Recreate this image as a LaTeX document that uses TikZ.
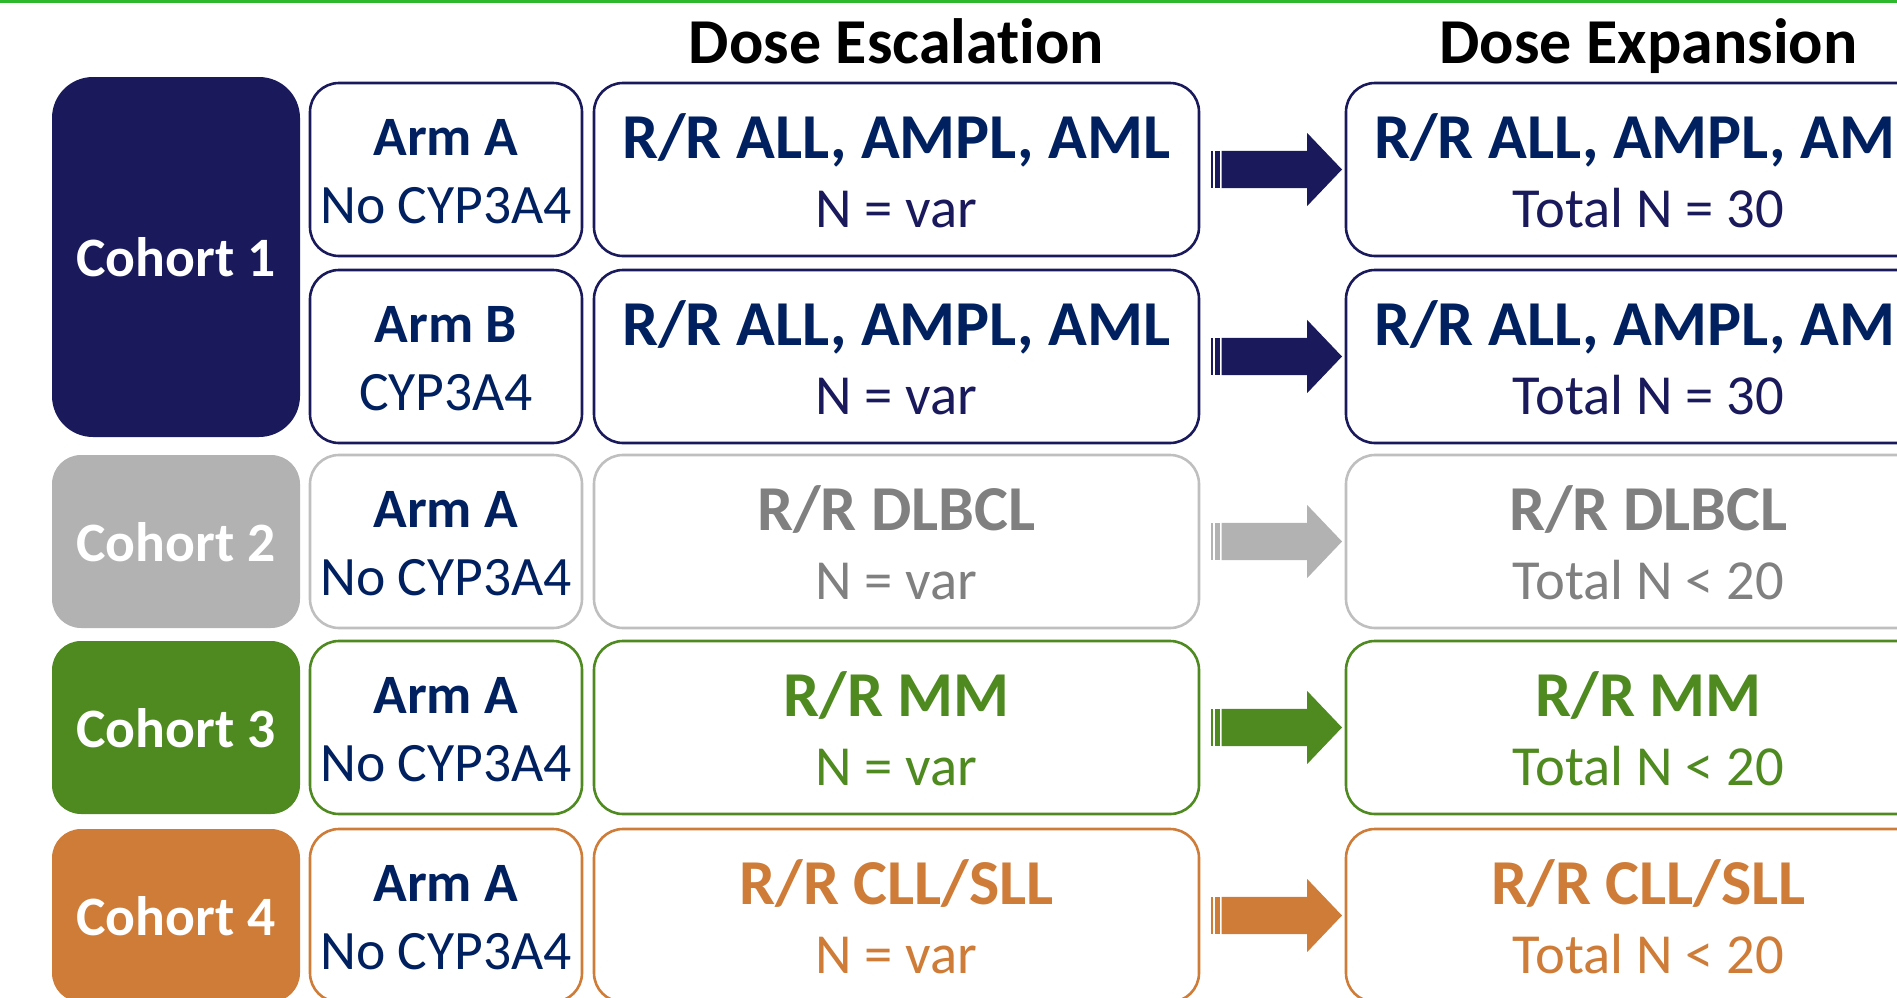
\documentclass[tikz,border=0pt]{standalone}
\usepackage{fontspec}
\setmainfont{Carlito}[Ligatures=NoCommon]
\definecolor{cnavy}{HTML}{19195C}
\definecolor{tnavy}{HTML}{002060}
\definecolor{cgrayf}{HTML}{B2B2B2}
\definecolor{cgrayb}{HTML}{BFBFBF}
\definecolor{cgrayt}{HTML}{808080}
\definecolor{cgreen}{HTML}{4E8A1F}
\definecolor{corange}{HTML}{CE7C38}
\definecolor{ctop}{HTML}{2EB82E}
\newcommand{\fs}[1]{\fontsize{#1}{#1}\selectfont}
\begin{document}
\begin{tikzpicture}[x=0.5pt,y=-0.5pt,
  box/.style={draw=#1, fill=white, line width=1.3pt, rounded corners=14.5pt, inner sep=0pt, outer sep=0pt, minimum height=86.5pt},
  armbox/.style={box=#1, minimum width=136pt},
  escbox/.style={box=#1, minimum width=302.5pt},
  cohortbox/.style={fill=#1, rounded corners=14.5pt, inner sep=0pt, outer sep=0pt, minimum width=124pt, minimum height=86.5pt},
  cohorttxt/.style={anchor=base, text=white, font=\bfseries\fs{27.8}},
  armhead/.style={anchor=base, text=tnavy, font=\bfseries\fs{27.8}},
  armsub/.style={anchor=base, text=tnavy, font=\fs{27.8}},
  dhead/.style={anchor=base, text=#1, font=\bfseries\fs{32}},
  dsub/.style={anchor=base, text=#1, font=\fs{28.3}},
  title/.style={anchor=base, text=black, font=\bfseries\fs{32}}
]
\useasboundingbox (0,0) rectangle (1897,997);
\clip (0,0) rectangle (1897,997);
\fill[ctop] (0,0) rectangle (1897,2.5);

% titles
\node[title] (tesc) at (896.5,63) {Dose Escalation};
\node[title] (texp) at (1648.5,63) {Dose Expansion};

% Cohort boxes
\node[cohortbox=cnavy, rounded corners=20.5pt, minimum height=180pt] (c1) at (176,257) {};
\node[cohorttxt] at (176,276.5) {Cohort 1};
\node[cohortbox=cgrayf] (c2) at (176,541.5) {};
\node[cohorttxt] at (176,561) {Cohort 2};
\node[cohortbox=cgreen] (c3) at (176,727.5) {};
\node[cohorttxt] at (176,747) {Cohort 3};
\node[cohortbox=corange] (c4) at (176,915.5) {};
\node[cohorttxt] at (176,935) {Cohort 4};

% Row 1
\node[armbox=cnavy] (a1) at (446,169.5) {};
\node[armhead] at (446,155) {Arm A};
\node[armsub] at (446,223) {No CYP3A4};
\node[escbox=cnavy] (e1) at (896.5,169.5) {};
\node[dhead=tnavy] at (896.5,158) {R/R ALL, AMPL, AML};
\node[dsub=cnavy] at (896.5,227) {N = var};
\node[escbox=cnavy] (x1) at (1648.5,169.5) {};
\node[dhead=tnavy] at (1648.5,158) {R/R ALL, AMPL, AML};
\node[dsub=cnavy] at (1648.5,227) {Total N = 30};

% Row 2
\node[armbox=cnavy] (a2) at (446,356.5) {};
\node[armhead] at (446,342) {Arm B};
\node[armsub] at (446,410) {CYP3A4};
\node[escbox=cnavy] (e2) at (896.5,356.5) {};
\node[dhead=tnavy] at (896.5,345) {R/R ALL, AMPL, AML};
\node[dsub=cnavy] at (896.5,414) {N = var};
\node[escbox=cnavy] (x2) at (1648.5,356.5) {};
\node[dhead=tnavy] at (1648.5,345) {R/R ALL, AMPL, AML};
\node[dsub=cnavy] at (1648.5,414) {Total N = 30};

% Row 3
\node[armbox=cgrayb] (a3) at (446,541.5) {};
\node[armhead] at (446,527) {Arm A};
\node[armsub] at (446,595) {No CYP3A4};
\node[escbox=cgrayb] (e3) at (896.5,541.5) {};
\node[dhead=cgrayt] at (896.5,530) {R/R DLBCL};
\node[dsub=cgrayt] at (896.5,599) {N = var};
\node[escbox=cgrayb] (x3) at (1648.5,541.5) {};
\node[dhead=cgrayt] at (1648.5,530) {R/R DLBCL};
\node[dsub=cgrayt] at (1648.5,599) {Total N < 20};

% Row 4
\node[armbox=cgreen] (a4) at (446,727.5) {};
\node[armhead] at (446,713) {Arm A};
\node[armsub] at (446,781) {No CYP3A4};
\node[escbox=cgreen] (e4) at (896.5,727.5) {};
\node[dhead=cgreen] at (896.5,716) {R/R MM};
\node[dsub=cgreen] at (896.5,785) {N = var};
\node[escbox=cgreen] (x4) at (1648.5,727.5) {};
\node[dhead=cgreen] at (1648.5,716) {R/R MM};
\node[dsub=cgreen] at (1648.5,785) {Total N < 20};

% Row 5
\node[armbox=corange] (a5) at (446,915.5) {};
\node[armhead] at (446,901) {Arm A};
\node[armsub] at (446,969) {No CYP3A4};
\node[escbox=corange] (e5) at (896.5,915.5) {};
\node[dhead=corange] at (896.5,904) {R/R CLL/SLL};
\node[dsub=corange] at (896.5,973) {N = var};
\node[escbox=corange] (x5) at (1648.5,915.5) {};
\node[dhead=corange] at (1648.5,904) {R/R CLL/SLL};
\node[dsub=corange] at (1648.5,973) {Total N < 20};

% striped arrows
\foreach \e/\c in {e1/cnavy,e2/cnavy,e3/cgrayf,e4/cgreen,e5/corange}{
  \begin{scope}[shift={(\e.east)}]
    \fill[\c] (11.5,-18.7) rectangle (13.8,18.7);
    \fill[\c] (15.7,-18.7) rectangle (20.6,18.7);
    \fill[\c] (22.6,-18.7) -- (108,-18.7) -- (108,-36.7) -- (143,0) -- (108,36.7) -- (108,18.7) -- (22.6,18.7) -- cycle;
  \end{scope}
}
\end{tikzpicture}
\end{document}
